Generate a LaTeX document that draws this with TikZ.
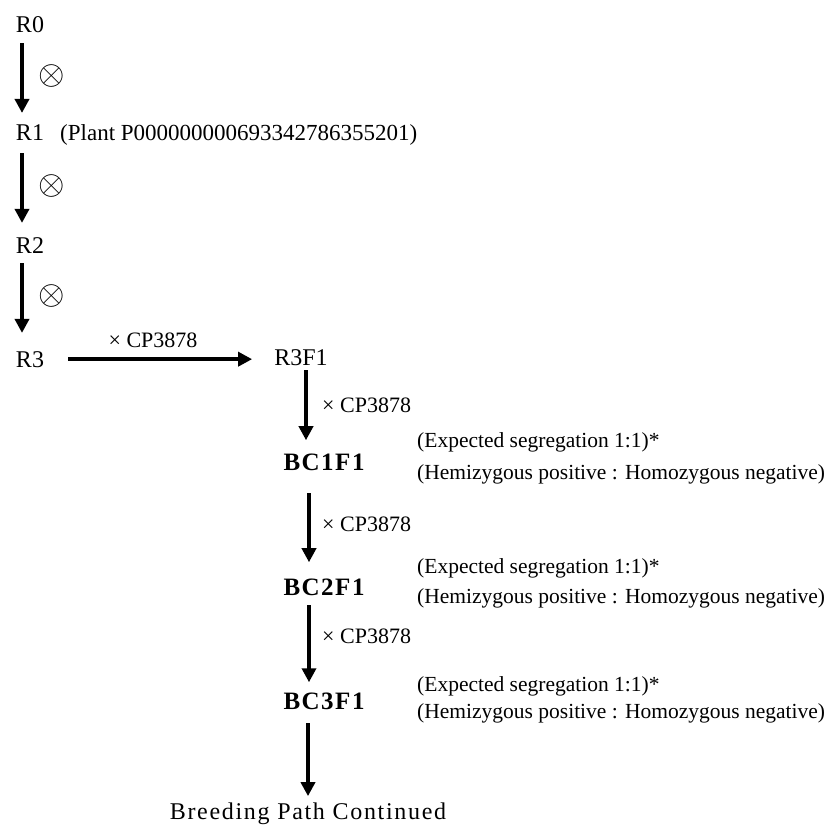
\documentclass[tikz,border=0pt]{standalone}
\usepackage{fontspec}
\setmainfont{Liberation Serif}
\usetikzlibrary{arrows.meta,calc}
\begin{document}
\begin{tikzpicture}[x=1pt,y=-1pt,
  gen/.style={font=\fontsize{24}{28}\selectfont, inner sep=0pt, anchor=base},
  bcl/.style={font=\fontsize{25}{28}\selectfont\bfseries\addfontfeature{LetterSpace=6}, inner sep=0pt, anchor=base},
  crs/.style={font=\fontsize{22}{26}\selectfont, inner sep=0pt, anchor=base west},
  seg/.style={font=\fontsize{21.5}{26}\selectfont, inner sep=0pt, anchor=base west},
  plantlbl/.style={font=\fontsize{23}{26}\selectfont, inner sep=0pt, anchor=base west},
  selfing/.style={inner sep=0pt},
  arr/.style={line width=4pt, -{Triangle[width=14pt,length=14pt]}}]
\useasboundingbox (0,0) rectangle (830,826);
% generations
\node[gen] (R0) at (30,33) {R0};
\node[gen] (R1) at (30,141) {R1};
\node[plantlbl] (plant) at (60,141) {(Plant P000000000693342786355201)};
\node[gen] (R2) at (30,254) {R2};
\node[gen] (R3) at (30,367) {R3};
\node[gen] (R3F1) at (301,365) {R3F1};
\node[bcl] (BC1) at (324,470) {BC1F1};
\node[bcl] (BC2) at (324,595) {BC2F1};
\node[bcl] (BC3) at (324,709) {BC3F1};
\node[gen, font=\fontsize{24}{28}\selectfont\addfontfeature{LetterSpace=7}] (cont) at (308,819) {Breeding Path Continued};
% selfing symbols
\node[selfing] (ox1) at (52,76) {\scalebox{3.4}{$\otimes$}};
\node[selfing] (ox2) at (52,186) {\scalebox{3.4}{$\otimes$}};
\node[selfing] (ox3) at (52,296) {\scalebox{3.4}{$\otimes$}};
% cross labels
\node[crs, anchor=base] (x0) at (153,347) {× CP3878};
\node[crs] (x1) at (322,412) {× CP3878};
\node[crs] (x2) at (322,531) {× CP3878};
\node[crs] (x3) at (322,643) {× CP3878};
% segregation notes
\node[seg] (s1a) at (417,447) {(Expected segregation 1:1)*};
\node[seg] (s1b) at (417,479) {(Hemizygous positive : Homozygous negative)};
\node[seg] (s2a) at (417,573) {(Expected segregation 1:1)*};
\node[seg] (s2b) at (417,603) {(Hemizygous positive : Homozygous negative)};
\node[seg] (s3a) at (417,691) {(Expected segregation 1:1)*};
\node[seg] (s3b) at (417,718) {(Hemizygous positive : Homozygous negative)};
% arrows
\draw[arr] ([shift={(-8,10)}]R0.south) -- ([shift={(-8,-12)}]R1.north);
\draw[arr] ([shift={(-8,12)}]R1.south) -- ([shift={(-8,-15)}]R2.north);
\draw[arr] ([shift={(-8,9)}]R2.south) -- ([shift={(-8,-18)}]R3.north);
\draw[arr] ([xshift=24]R3.east) -- ([xshift=-22]R3F1.west |- R3.east);
\draw[arr] ([shift={(5,5)}]R3F1.south) -- ([shift={(5,-13)}]R3F1.south |- BC1.north);
\draw[arr] ([shift={(-15,23)}]BC1.south) -- ([shift={(-15,-16)}]BC2.north);
\draw[arr] ([shift={(-15,10)}]BC2.south) -- ([shift={(-15,-10)}]BC3.north);
\draw[arr] ([shift={(-16,14)}]BC3.south) -- ([shift={(0,-6)}]cont.north);
\end{tikzpicture}
\end{document}
